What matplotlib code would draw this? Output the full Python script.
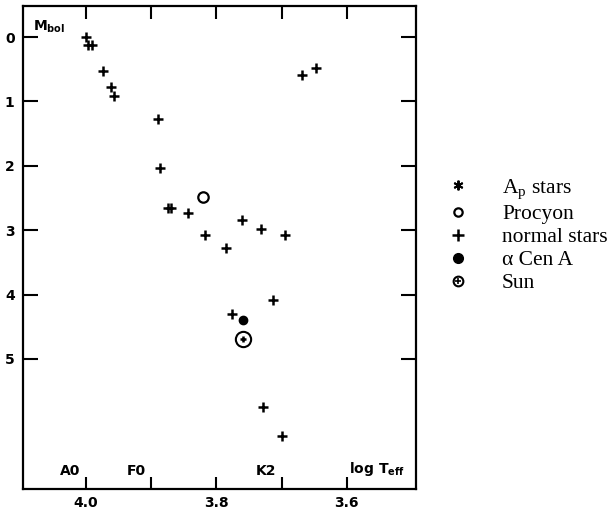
import matplotlib
matplotlib.use("Agg")
import matplotlib.pyplot as plt
from matplotlib.lines import Line2D

plt.rcParams["mathtext.fontset"] = "dejavusans"

# ---- data ----
normal_logT = [4.000, 3.997, 3.991, 3.974, 3.962, 3.957, 3.889, 3.886, 3.875, 3.869,
               3.844, 3.817, 3.786, 3.760, 3.731, 3.695, 3.669, 3.647, 3.713, 3.776,
               3.728, 3.699]
normal_Mbol = [0.00, 0.12, 0.12, 0.53, 0.78, 0.92, 1.28, 2.04, 2.65, 2.65,
               2.74, 3.07, 3.27, 2.84, 2.98, 3.07, 0.59, 0.48, 4.08, 4.30,
               5.75, 6.20]
procyon_logT = [3.821]
procyon_Mbol = [2.49]
acen_logT = [3.759]
acen_Mbol = [4.39]
sun_logT = [3.759]
sun_Mbol = [4.69]

xticks_major = [4.0, 3.9, 3.8, 3.7, 3.6]
xtick_labels = ["4.0", "", "3.8", "", "3.6"]
yticks = [0, 1, 2, 3, 4, 5]
ytick_labels = ["0", "1", "2", "3", "4", "5"]
spec_types = ["A0", "F0", "K2"]
spec_logT = [4.0, 3.9, 3.7]
legend_labels = [r"A$_\mathregular{p}$ stars", "Procyon", "normal stars", "α Cen A", "Sun"]

fig = plt.figure(figsize=(6.15, 5.15), dpi=100)
ax = fig.add_axes([0.0374, 0.0505, 0.6386, 0.9375])

ax.plot(normal_logT, normal_Mbol, ls="none", marker="+", ms=6.5, mew=1.8, color="black")
ax.plot(procyon_logT, procyon_Mbol, ls="none", marker="o", ms=7.5, mfc="white",
        mec="black", mew=1.6)
ax.plot(acen_logT, acen_Mbol, ls="none", marker="o", ms=6, color="black")
ax.plot(sun_logT, sun_Mbol, ls="none", marker="o", ms=11, mfc="none", mec="black", mew=1.5)
ax.plot(sun_logT, sun_Mbol, ls="none", marker="+", ms=5, mew=1.8, color="black")

ax.set_xlim(4.097, 3.494)
ax.set_ylim(7.02, -0.48)

for s in ax.spines.values():
    s.set_linewidth(1.6)

tfont = dict(family="DejaVu Sans", size=10, weight="bold")
ax.set_xticks(xticks_major)
ax.set_xticklabels(xtick_labels, **tfont)
ax.set_yticks(yticks)
ax.set_yticklabels(ytick_labels, **tfont)
ax.tick_params(axis="x", which="major", direction="in", top=True, bottom=True,
               length=9, width=1.5, pad=5)
ax.tick_params(axis="y", which="major", direction="in", left=True, right=True,
               length=11, width=1.5, pad=6)

ax.text(0.025, 0.975, r"M$_\mathregular{bol}$", transform=ax.transAxes, ha="left", va="top",
        **tfont)
ax.annotate(r"log T$_\mathregular{eff}$", xy=(3.6, 7.02), xytext=(2, 8),
            textcoords="offset points", ha="left", va="bottom", **tfont)
for lab, xv in zip(spec_types, spec_logT):
    ax.annotate(lab, xy=(xv, 7.02), xytext=(-4, 8), textcoords="offset points",
                ha="right", va="bottom", **tfont)

handles = [
    Line2D([], [], ls="none", marker=(6, 2, 0), ms=7, mew=1.4, color="black"),
    Line2D([], [], ls="none", marker="o", ms=6, mfc="white", mec="black", mew=1.6),
    Line2D([], [], ls="none", marker="+", ms=8, mew=1.8, color="black"),
    Line2D([], [], ls="none", marker="o", ms=7, color="black"),
    (Line2D([], [], ls="none", marker="o", ms=7, mfc="none", mec="black", mew=1.5),
     Line2D([], [], ls="none", marker="+", ms=4, mew=1.2, color="black")),
]
fig.legend(handles, legend_labels, loc="upper left", bbox_to_anchor=(0.713, 0.672),
           frameon=False, prop=dict(family="Liberation Serif", size=15.5),
           handlelength=1.0, handletextpad=1.55, labelspacing=0.13, borderaxespad=0)

fig.savefig("out.png", dpi=100)
